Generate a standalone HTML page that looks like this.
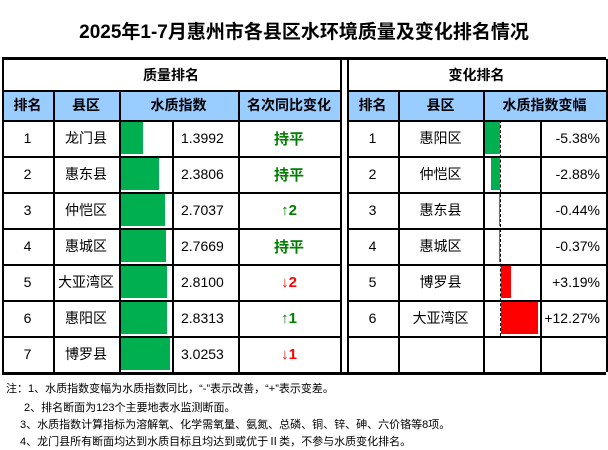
<!DOCTYPE html>
<html><head><meta charset="utf-8">
<style>
body{margin:0;width:608px;height:450px;background:#fff;overflow:hidden;font-family:"Liberation Sans","Noto Sans CJK SC",sans-serif;position:relative}
.c{position:absolute;box-sizing:border-box;display:flex;align-items:center;justify-content:center;font-size:14px;color:#000;white-space:nowrap}
.h{background:#99CCFF;font-weight:bold;font-size:14px}
.ln{position:absolute;background:#000}
.note{position:absolute;left:6px;font-size:11px;white-space:nowrap}
</style></head><body>
<div style="position:absolute;left:0;top:17px;width:608px;text-align:center;font-weight:bold;font-size:19px">2025年1-7月惠州市各县区水环境质量及变化排名情况</div>
<div id="t"></div>
<div class="note" style="top:380px">注：1、水质指数变幅为水质指数同比，“-”表示改善，“+”表示变差。</div>
<div class="note" style="top:399px;left:24px">2、排名断面为123个主要地表水监测断面。</div>
<div class="note" style="top:416px;left:20px">3、水质指数计算指标为溶解氧、化学需氧量、氨氮、总磷、铜、锌、砷、六价铬等8项。</div>
<div class="note" style="top:433px;left:20px">4、龙门县所有断面均达到水质目标且均达到或优于Ⅱ类，不参与水质变化排名。</div>
<script>
const qRanks=[1,2,3,4,5,6,7];
const qCounties=["龙门县","惠东县","仲恺区","惠城区","大亚湾区","惠阳区","博罗县"];
const qValues=[1.3992,2.3806,2.7037,2.7669,2.8100,2.8313,3.0253];
const qChange=["持平","持平","↑2","持平","↓2","↑1","↓1"];
const cRanks=[1,2,3,4,5,6];
const cCounties=["惠阳区","仲恺区","惠东县","惠城区","博罗县","大亚湾区"];
const cValues=[-5.38,-2.88,-0.44,-0.37,3.19,12.27];

const T=document.getElementById('t');
function cell(x,y,w,h,txt,cls,name,style){const d=document.createElement('div');d.className='c '+(cls||'');
d.style.left=x+'px';d.style.top=y+'px';d.style.width=w+'px';d.style.height=h+'px';if(style)d.style.cssText+=style;d.textContent=txt;


T.appendChild(d);return d;}
function line(x,y,w,h,name){const d=document.createElement('div');d.className='ln';d.style.left=x+'px';d.style.top=y+'px';d.style.width=w+'px';d.style.height=h+'px';


T.appendChild(d);}
const top0=59,hdrY=90,rowY=120,RH=36,bot=372;
const L=[2,53,119,172,238,340], R=[347,398,483,540,606];
cell(L[0],hdrY,L[5]-L[0],30,'','h','left-header-bg');
cell(R[0],hdrY,R[4]-R[0],30,'','h','right-header-bg');
cell(L[0],top0,L[5]-L[0],31,'质量排名','','left-section-title','font-weight:bold');
cell(R[0],top0,R[4]-R[0],31,'变化排名','','right-section-title','font-weight:bold');
cell(L[0],hdrY,L[1]-L[0],30,'排名','h','hdr-rank');
cell(L[1],hdrY,L[2]-L[1],30,'县区','h','hdr-county');
cell(L[2],hdrY,L[4]-L[2],30,'水质指数','h','hdr-index');
cell(L[4],hdrY,L[5]-L[4],30,'名次同比变化','h','hdr-rank-change');
cell(R[0],hdrY,R[1]-R[0],30,'排名','h','hdr-rank-r');
cell(R[1],hdrY,R[2]-R[1],30,'县区','h','hdr-county-r');
cell(R[2],hdrY,R[4]-R[2],30,'水质指数变幅','h','hdr-index-change');
const qScale=17;
qRanks.forEach((r,i)=>{const y=rowY+i*RH;
cell(L[0],y,L[1]-L[0],RH,String(r),'','q-rank');
cell(L[1],y,L[2]-L[1],RH,qCounties[i],'','q-county');
const b=document.createElement('div');b.style.cssText=`position:absolute;left:${L[2]}px;top:${y+2}px;width:${qValues[i]*qScale}px;height:${RH-4}px;background:#00B050`;


T.appendChild(b);
cell(L[3],y,L[4]-L[3],RH,qValues[i].toFixed(4),'','q-value','justify-content:flex-start;padding-left:9px');
const ch=qChange[i];const col=ch[0]==='↓'?'#FF0000':'#008000';
cell(L[4],y,L[5]-L[4],RH,ch,'','q-change','font-weight:bold;font-size:15px;color:'+col);
});
const cScale=3.05, axisX=500;
const ax=document.createElement('div');ax.style.cssText=`position:absolute;left:${axisX}px;top:${rowY}px;width:0;height:${RH*6}px;border-left:1px dashed #000`;


T.appendChild(ax);
cRanks.forEach((r,i)=>{const y=rowY+i*RH;
cell(R[0],y,R[1]-R[0],RH,String(r),'','c-rank');
cell(R[1],y,R[2]-R[1],RH,cCounties[i],'','c-county');
const v=cValues[i],w=Math.abs(v)*cScale;
const b=document.createElement('div');b.style.cssText=`position:absolute;left:${v<0?axisX-w:axisX+1}px;top:${y+2}px;width:${w}px;height:${RH-4}px;background:${v<0?'#00B050':'#FF0000'}`;


T.appendChild(b);
cell(R[3],y,R[4]-R[3],RH,(v>0?'+':'')+v.toFixed(2)+'%','','c-value','justify-content:flex-end;padding-right:6px');
});
line(L[0],top0-2,606-L[0],3,'top-border');
line(L[0],bot,606-L[0],3,'bottom-border');
[hdrY,rowY].forEach(y=>{line(L[0],y,L[5]-L[0],2,'hline');line(R[0],y,R[4]-R[0],2,'hline');});
for(let i=1;i<7;i++){const y=rowY+i*RH;line(L[0],y,L[5]-L[0],2,'hline');line(R[0],y,R[4]-R[0],2,'hline');}
line(L[0],top0,2,bot-top0,'vline');line(L[5],top0,2,bot-top0,'vline');
line(R[0],top0,2,bot-top0,'vline');line(R[4],top0,2,bot-top0,'vline');
[L[1],L[2],L[4]].forEach(x=>line(x,hdrY,2,bot-hdrY,'vline'));
line(L[3],rowY,2,bot-rowY,'vline');
[R[1],R[2]].forEach(x=>line(x,hdrY,2,bot-hdrY,'vline'));
line(R[3],rowY,2,bot-rowY,'vline');
</script>
</body></html>
